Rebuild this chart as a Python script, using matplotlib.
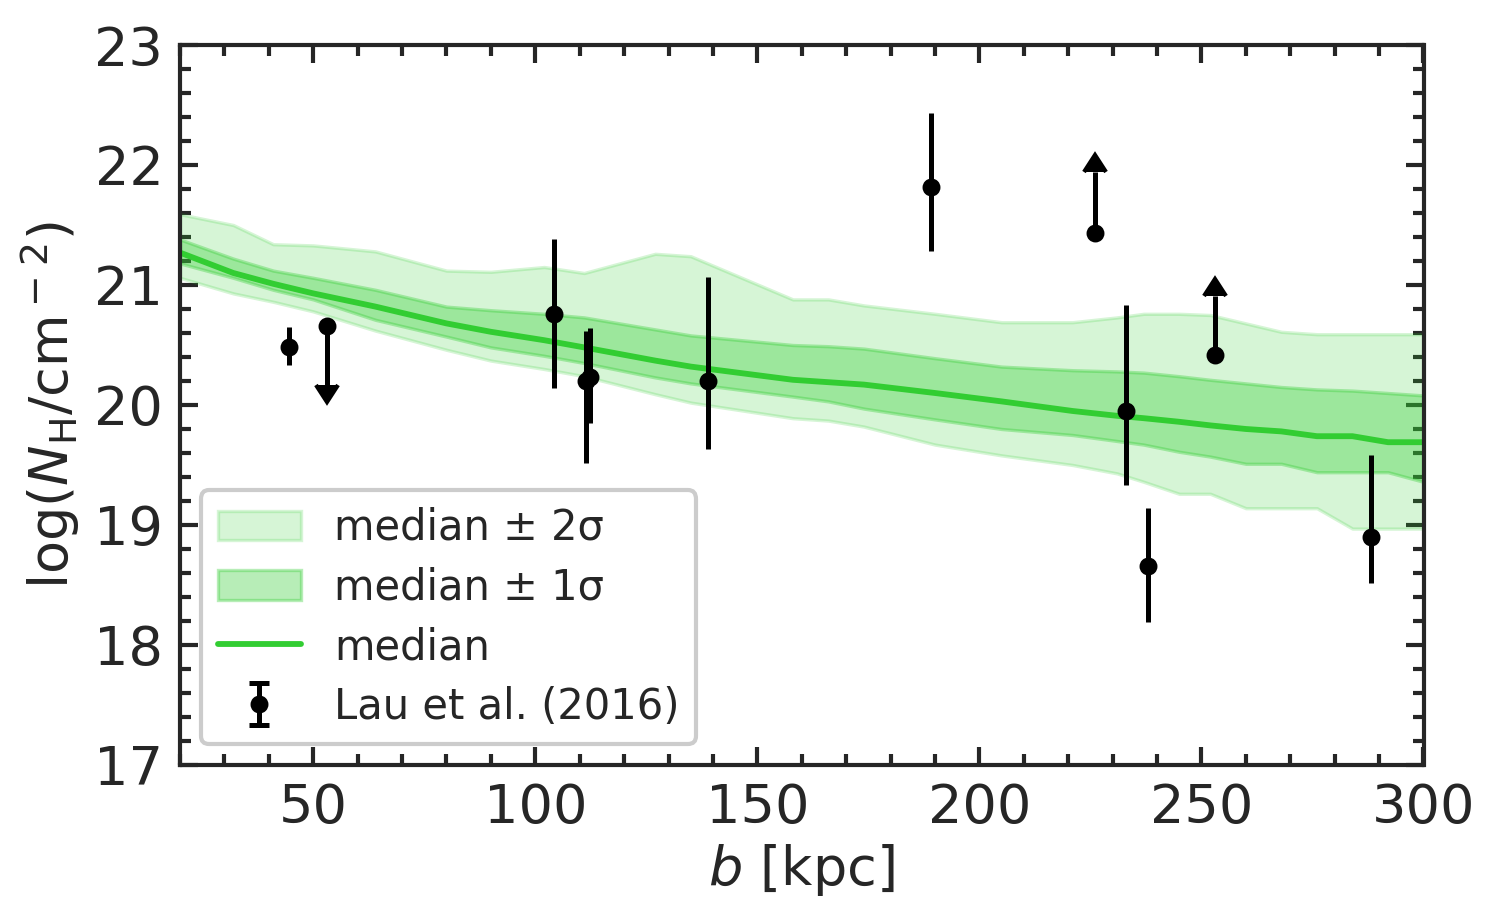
import numpy as np
import matplotlib
matplotlib.use("Agg")
import matplotlib.pyplot as plt
import seaborn as sns
from matplotlib.ticker import MultipleLocator

# simulated profile
b_grid = [20, 32, 41, 50, 64, 80, 90, 102, 111, 127, 135, 158, 166, 174, 190,
          205, 221, 231, 237, 245, 252, 260, 268, 276, 284, 292, 300]
med = [21.27, 21.10, 21.01, 20.93, 20.82, 20.68, 20.61, 20.54, 20.48, 20.37, 20.32,
       20.21, 20.19, 20.17, 20.10, 20.03, 19.95, 19.91, 19.89, 19.86, 19.83, 19.80,
       19.78, 19.74, 19.74, 19.69, 19.69]
up2 = [21.59, 21.50, 21.34, 21.33, 21.28, 21.12, 21.11, 21.15, 21.10, 21.26, 21.24,
       20.88, 20.88, 20.83, 20.76, 20.69, 20.69, 20.73, 20.76, 20.76, 20.75, 20.68,
       20.61, 20.59, 20.59, 20.59, 20.59]
up1 = [21.38, 21.22, 21.12, 21.06, 20.96, 20.82, 20.79, 20.76, 20.73, 20.63, 20.58,
       20.50, 20.49, 20.47, 20.39, 20.32, 20.29, 20.28, 20.27, 20.24, 20.21, 20.18,
       20.15, 20.13, 20.12, 20.10, 20.08]
lo1 = [21.18, 21.06, 20.96, 20.88, 20.71, 20.57, 20.48, 20.41, 20.35, 20.23, 20.18,
       20.07, 20.03, 19.97, 19.88, 19.80, 19.75, 19.70, 19.67, 19.61, 19.57, 19.51,
       19.51, 19.44, 19.44, 19.44, 19.36]
lo2 = [21.06, 20.93, 20.86, 20.78, 20.62, 20.46, 20.37, 20.30, 20.24, 20.09, 20.02,
       19.89, 19.87, 19.82, 19.67, 19.58, 19.50, 19.43, 19.36, 19.26, 19.26, 19.14,
       19.14, 19.14, 18.97, 18.97, 18.97]

# Lau et al. (2016) measurements
obs_b = [44.5, 104.2, 111.5, 112.3, 139.0, 189.0, 233.1, 238.0, 288.2]
obs_N = [20.48, 20.76, 20.20, 20.23, 20.20, 21.82, 19.95, 18.66, 18.90]
obs_err_lo = [0.15, 0.62, 0.68, 0.38, 0.57, 0.54, 0.62, 0.47, 0.38]
obs_err_hi = [0.17, 0.62, 0.42, 0.41, 0.87, 0.61, 0.88, 0.48, 0.68]

# upper limits (arrow down) and lower limits (arrow up)
ul_b = [53.1]
ul_N = [20.66]
ul_len = [0.49]
ll_b = [226.1, 253.1]
ll_N = [21.43, 20.42]
ll_len = [0.51, 0.49]

green = "limegreen"

sns.set_style("ticks")
plt.rcParams["font.family"] = ["DejaVu Sans"]
plt.rcParams["mathtext.fontset"] = "dejavusans"

fig, ax = plt.subplots(figsize=(5, 3), dpi=300)
fig.subplots_adjust(left=0.12, right=0.949, top=0.95, bottom=0.15)

ax.fill_between(b_grid, lo2, up2, color=green, alpha=0.2, lw=0.8,
                label="median ± 2σ")
ax.fill_between(b_grid, lo1, up1, color=green, alpha=0.35, lw=0.8,
                label="median ± 1σ")
ax.plot(b_grid, med, color=green, lw=1.4, label="median")

ax.errorbar(obs_b, obs_N, yerr=[obs_err_lo, obs_err_hi], fmt="o", color="k",
            ms=3.3, elinewidth=1.2, capsize=0, zorder=5)

# limits drawn as line + caret
ul_end = np.array(ul_N) - np.array(ul_len)
ax.vlines(ul_b, ul_end, ul_N, color="k", lw=1.2, zorder=5)
ax.plot(ul_b, ul_end, ls="none", marker=11, ms=5.5, color="k", zorder=5)
ax.plot(ul_b, ul_N, "o", ms=3.3, color="k", zorder=5)
ll_end = np.array(ll_N) + np.array(ll_len)
ax.vlines(ll_b, ll_N, ll_end, color="k", lw=1.2, zorder=5)
ax.plot(ll_b, ll_end, ls="none", marker=10, ms=5.5, color="k", zorder=5)
ax.plot(ll_b, ll_N, "o", ms=3.3, color="k", zorder=5)

# legend proxy with caps
ax.errorbar([np.nan], [np.nan], yerr=[1], fmt="o", color="k", ms=3.3,
            elinewidth=1.2, capsize=2.5, capthick=1.2, label="Lau et al. (2016)")

ax.set_xlim(20, 300)
ax.set_ylim(17, 23)
ax.xaxis.set_major_locator(MultipleLocator(50))
ax.xaxis.set_minor_locator(MultipleLocator(10))
ax.yaxis.set_major_locator(MultipleLocator(1))
ax.yaxis.set_minor_locator(MultipleLocator(0.2))
ax.tick_params(which="both", direction="in", top=True, right=True,
               width=1.0, labelsize=13, colors="#262626")
ax.tick_params(which="major", length=4.3, pad=4)
ax.tick_params(which="minor", length=2.6)
for s in ax.spines.values():
    s.set_linewidth(1.0)
    s.set_color("#262626")

ax.set_xlabel(r"$b$ [kpc]", fontsize=13, color="#262626", labelpad=2)
ax.set_ylabel(r"log($N_{\rm H}$/cm$^-$$^2$)", fontsize=13, color="#262626",
              labelpad=3)

ax.legend(loc="lower left", fontsize=10, frameon=True, framealpha=1,
          handlelength=2.0, borderpad=0.4, labelspacing=0.42)

fig.savefig("out.png", dpi=300)
